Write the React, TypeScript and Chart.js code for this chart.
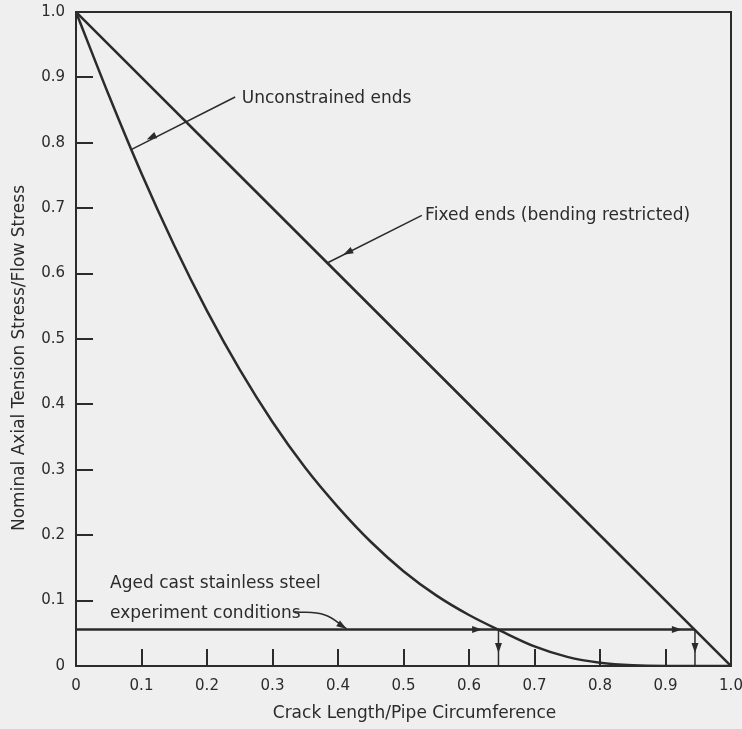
import React, { useEffect, useRef } from "react";
import { Chart, registerables } from "chart.js";

Chart.register(...registerables);

// ---- data ----
const crackLengthRatio = [0, 0.05, 0.1, 0.15, 0.2, 0.25, 0.3, 0.35, 0.4, 0.45, 0.5, 0.55, 0.6, 0.65, 0.7, 0.75, 0.8, 0.85, 0.9, 0.95, 1.0];
const unconstrainedStress = [1.0, 0.873, 0.753, 0.643, 0.543, 0.453, 0.373, 0.303, 0.243, 0.19, 0.145, 0.108, 0.078, 0.053, 0.03, 0.014, 0.005, 0.001, 0, 0, 0];

const fixedCrackRatio = [0, 0.25, 0.5, 0.75, 1.0];
const fixedStress = [1.0, 0.75, 0.5, 0.25, 0];

const experimentLevel = 0.056;
const experimentLimits = [0, 0.945];
const criticalCracks = [0.645, 0.945];

const xTickLabels = ["0", "0.1", "0.2", "0.3", "0.4", "0.5", "0.6", "0.7", "0.8", "0.9", "1.0"];
const yTickLabels = ["0", "0.1", "0.2", "0.3", "0.4", "0.5", "0.6", "0.7", "0.8", "0.9", "1.0"];

const xTitle = "Crack Length/Pipe Circumference";
const yTitle = "Nominal Axial Tension Stress/Flow Stress";

// leader lines
const unconstrainedLeaderX = [0.243, 0.085];
const unconstrainedLeaderY = [0.87, 0.79];
const fixedLeaderX = [0.528, 0.385];
const fixedLeaderY = [0.689, 0.617];
const experimentLeaderX = [0.334, 0.38, 0.413];
const experimentLeaderY = [0.083, 0.078, 0.057];

// annotation text
const annotationTexts = ["Unconstrained ends", "Fixed ends (bending restricted)", "Aged cast stainless steel", "experiment conditions"];
const annotationX = [0.253, 0.533, 0.052, 0.052];
const annotationY = [0.861, 0.682, 0.119, 0.073];

// arrow heads: tip and a reference tail point giving the direction
const arrowTipX = [0.108, 0.408, 0.413, 0.62, 0.925, 0.645, 0.945];
const arrowTipY = [0.805, 0.629, 0.057, 0.056, 0.056, 0.02, 0.02];
const arrowTailX = [0.243, 0.528, 0.38, 0, 0, 0.645, 0.945];
const arrowTailY = [0.87, 0.689, 0.078, 0.056, 0.056, 0.056, 0.056];

const INK = "#2b2b2b";
const BG = "#efefef";
const FONT = "'DejaVu Sans', sans-serif";

const pts = (xs: number[], ys: number[]) => xs.map((x, i) => ({ x, y: ys[i] }));

const lineDs = (data: { x: number; y: number }[], width = 2, extra: any = {}) => ({
  data,
  showLine: true,
  borderColor: INK,
  backgroundColor: INK,
  borderWidth: width,
  pointRadius: 0,
  pointHoverRadius: 0,
  fill: false,
  ...extra,
});

const decorPlugin = {
  id: "decor",
  beforeDraw(chart: any) {
    const { ctx, width, height } = chart;
    ctx.save();
    ctx.fillStyle = BG;
    ctx.fillRect(0, 0, width, height);
    ctx.restore();
  },
  afterDraw(chart: any) {
    const { ctx, chartArea } = chart;
    const xs = chart.scales.x;
    const ys = chart.scales.y;
    ctx.save();
    // frame
    ctx.strokeStyle = INK;
    ctx.lineWidth = 2;
    ctx.strokeRect(chartArea.left, chartArea.top, chartArea.right - chartArea.left, chartArea.bottom - chartArea.top);

    ctx.fillStyle = INK;
    ctx.font = `17px ${FONT}`;

    // axis titles
    ctx.textAlign = "center";
    ctx.textBaseline = "middle";
    ctx.fillText(xTitle, (chartArea.left + chartArea.right) / 2 + 11, chartArea.bottom + 48);
    ctx.save();
    ctx.translate(20, (chartArea.top + chartArea.bottom) / 2 + 19);
    ctx.rotate(-Math.PI / 2);
    ctx.fillText(yTitle, 0, 0);
    ctx.restore();

    // annotation texts
    ctx.textAlign = "left";
    ctx.textBaseline = "alphabetic";
    annotationTexts.forEach((t, i) => {
      ctx.fillText(t, xs.getPixelForValue(annotationX[i]), ys.getPixelForValue(annotationY[i]));
    });

    // arrow heads
    arrowTipX.forEach((tx, i) => {
      const px = xs.getPixelForValue(tx);
      const py = ys.getPixelForValue(arrowTipY[i]);
      const qx = xs.getPixelForValue(arrowTailX[i]);
      const qy = ys.getPixelForValue(arrowTailY[i]);
      const ang = Math.atan2(py - qy, px - qx);
      const len = 10;
      const hw = 3.5;
      const bx = px - Math.cos(ang) * len;
      const by = py - Math.sin(ang) * len;
      ctx.beginPath();
      ctx.moveTo(px, py);
      ctx.lineTo(bx + Math.sin(ang) * hw, by - Math.cos(ang) * hw);
      ctx.lineTo(bx - Math.sin(ang) * hw, by + Math.cos(ang) * hw);
      ctx.closePath();
      ctx.fill();
    });
    ctx.restore();
  },
};

const zeroPad = (s: any) => {
  s.paddingLeft = 0;
  s.paddingRight = 0;
  s.paddingTop = 0;
  s.paddingBottom = 0;
};

export default function App() {
  const canvasRef = useRef<HTMLCanvasElement | null>(null);

  useEffect(() => {
    document.body.style.margin = "0";
    document.body.style.background = BG;
    const canvas = canvasRef.current;
    if (!canvas) return;

    const datasets: any[] = [
      lineDs(pts(crackLengthRatio, unconstrainedStress), 2.5, { cubicInterpolationMode: "monotone" }),
      lineDs(pts(fixedCrackRatio, fixedStress), 2.5),
      lineDs(pts(experimentLimits, experimentLimits.map(() => experimentLevel)), 2.5),
      ...criticalCracks.map((c) => lineDs([{ x: c, y: experimentLevel }, { x: c, y: 0 }], 1.5)),
      lineDs(pts(unconstrainedLeaderX, unconstrainedLeaderY), 1.5),
      lineDs(pts(fixedLeaderX, fixedLeaderY), 1.5),
      lineDs(pts(experimentLeaderX, experimentLeaderY), 1.5, { tension: 0.4 }),
    ];

    const chart = new Chart(canvas, {
      type: "scatter",
      data: { datasets },
      options: {
        animation: false,
        responsive: false,
        maintainAspectRatio: false,
        events: [],
        layout: { padding: { left: 0, top: 12, right: 11, bottom: 0 } },
        plugins: {
          legend: { display: false },
          tooltip: { enabled: false },
        },
        scales: {
          x: {
            type: "linear",
            min: 0,
            max: 1,
            afterFit: (s: any) => {
              s.height = 63;
              zeroPad(s);
            },
            afterBuildTicks: (s: any) => {
              s.ticks = xTickLabels.map((_, i) => ({ value: i / 10 }));
            },
            ticks: {
              autoSkip: false,
              maxRotation: 0,
              padding: 28,
              color: INK,
              font: { family: FONT, size: 15 },
              callback: (_v: any, i: number) => xTickLabels[i],
            },
            grid: {
              drawOnChartArea: false,
              drawTicks: true,
              tickLength: -17,
              color: INK,
              lineWidth: 2,
            },
            border: { display: true, color: INK, width: 2 },
            title: { display: false, text: xTitle },
          },
          y: {
            type: "linear",
            min: 0,
            max: 1,
            afterFit: (s: any) => {
              s.width = 76;
              zeroPad(s);
            },
            afterBuildTicks: (s: any) => {
              s.ticks = yTickLabels.map((_, i) => ({ value: i / 10 }));
            },
            ticks: {
              autoSkip: false,
              padding: 28,
              color: INK,
              font: { family: FONT, size: 15 },
              callback: (_v: any, i: number) => yTickLabels[i],
            },
            grid: {
              drawOnChartArea: false,
              drawTicks: true,
              tickLength: -17,
              color: INK,
              lineWidth: 2,
            },
            border: { display: true, color: INK, width: 2 },
            title: { display: false, text: yTitle },
          },
        },
      },
      plugins: [decorPlugin],
    } as any);

    return () => chart.destroy();
  }, []);

  return (
    <div style={{ width: 742, height: 729 }}>
      <canvas ref={canvasRef} width={742} height={729} style={{ display: "block", width: 742, height: 729 }} />
    </div>
  );
}
